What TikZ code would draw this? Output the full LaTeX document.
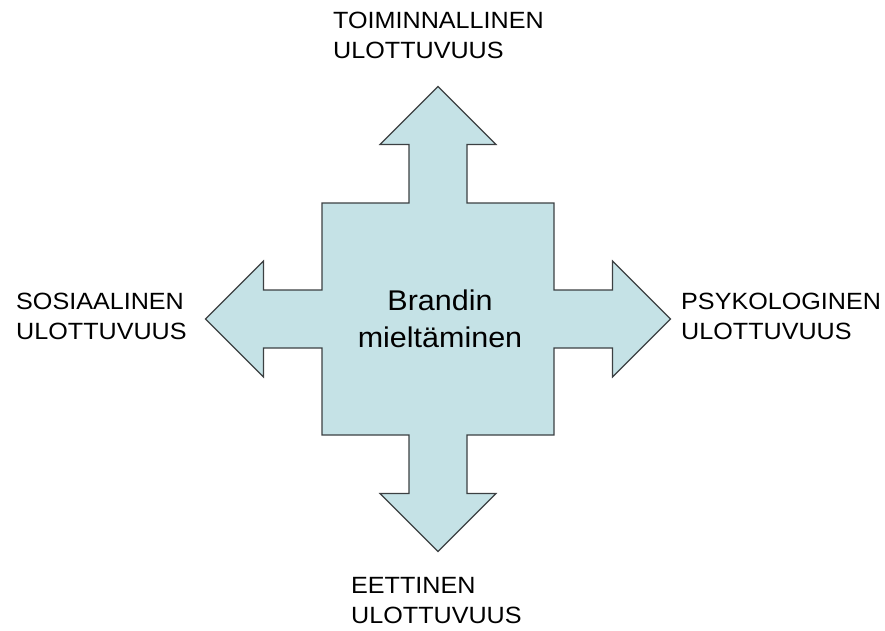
\documentclass[tikz,border=0pt]{standalone}
\usepackage{fontspec}
\setmainfont[FakeStretch=1.07]{Liberation Sans}
\definecolor{arrowfill}{RGB}{197,226,230}
\definecolor{arrowline}{RGB}{60,64,66}
\tikzset{
  quadarrow/.style={fill=arrowfill, draw=arrowline, line width=1.2pt, line join=miter},
  dimlabel/.style={anchor=north west, inner sep=0pt, align=left,
    font=\fontsize{23.5}{30}\selectfont, text=black},
  corelabel/.style={anchor=north, inner sep=0pt, align=center,
    font=\fontsize{28.5}{37}\selectfont, text=black}
}
\begin{document}
\begin{tikzpicture}[x=1pt,y=-1pt]
\useasboundingbox (0,0) rectangle (885,630);
% four-way arrow around a central square
\draw[quadarrow]
  (438,86.5) -- (496,144.5) -- (467,144.5) -- (467,203) -- (554,203)
  -- (554,290) -- (612.5,290) -- (612.5,261) -- (670.5,319) -- (612.5,377)
  -- (612.5,348) -- (554,348) -- (554,435) -- (467,435) -- (467,493.5)
  -- (496,493.5) -- (438,551.5) -- (380,493.5) -- (409,493.5) -- (409,435)
  -- (322,435) -- (322,348) -- (263.5,348) -- (263.5,377) -- (205.5,319)
  -- (263.5,261) -- (263.5,290) -- (322,290) -- (322,203) -- (409,203)
  -- (409,144.5) -- (380,144.5) -- cycle;
\node[corelabel] (core) at (440,290) {Brandin\\mieltäminen};
\node[dimlabel] (top) at (333,12) {TOIMINNALLINEN\\ULOTTUVUUS};
\node[dimlabel] (left) at (16,293) {SOSIAALINEN\\ULOTTUVUUS};
\node[dimlabel] (right) at (681,293) {PSYKOLOGINEN\\ULOTTUVUUS};
\node[dimlabel] (bottom) at (351,577) {EETTINEN\\ULOTTUVUUS};
\end{tikzpicture}
\end{document}
